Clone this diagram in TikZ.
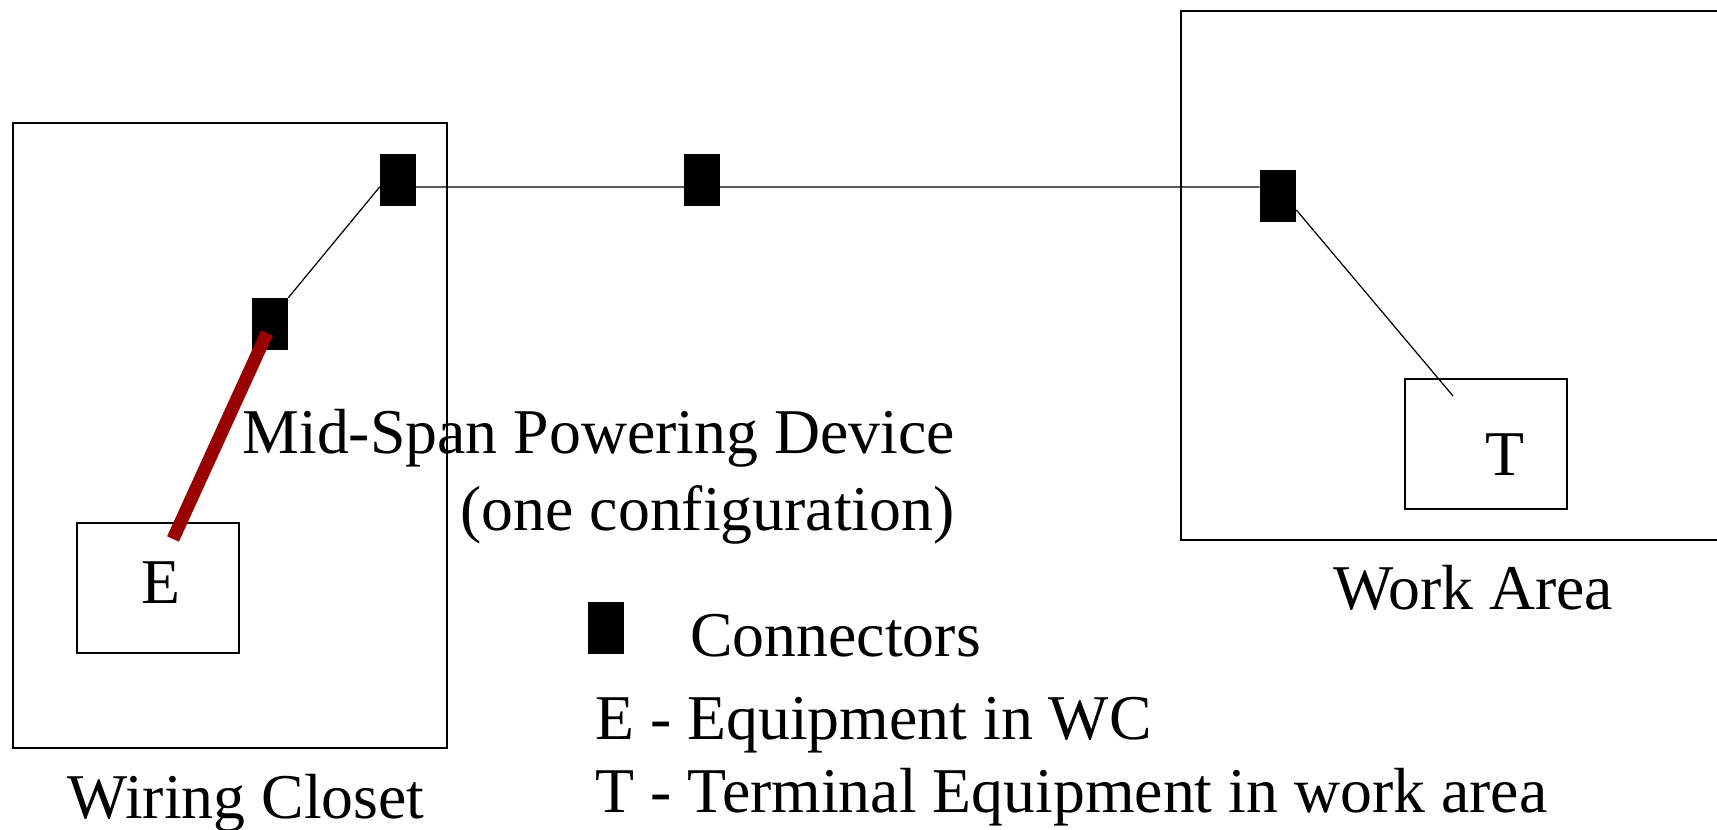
\documentclass[tikz,border=0pt]{standalone}
\usepackage{fontspec}
\setmainfont{Liberation Serif}
\usetikzlibrary{calc}
\definecolor{cablered}{RGB}{153,0,0}

\tikzset{
  conn/.style={fill=black, minimum width=0.72cm, minimum height=1.04cm, inner sep=0pt},
  area/.style={draw, line width=1pt},
  equip/.style={draw, line width=1pt, minimum width=3.24cm, minimum height=2.6cm, inner sep=0pt},
  wire/.style={line width=0.7pt},
  txt/.style={font=\fontsize{36.3}{43.7}\selectfont, inner sep=0pt}
}

\begin{document}
\begin{tikzpicture}[x=0.02cm, y=-0.02cm]
  \useasboundingbox (0,0) rectangle (1717,830);
  \clip (0,0) rectangle (1717,830);

  % Wiring closet
  \draw[area] (13,123) rectangle (447,748);
  \node[txt, anchor=base] (wc) at (246,818) {Wiring Closet};
  \node[equip] (ebox) at (158,588) {};
  \node[txt, anchor=base] (e) at (161,603) {E};

  % Work area
  \draw[area] (1181,11) rectangle (1740,540);
  \node[txt, anchor=base] (wa) at (1473,610) {Work Area};
  \node[equip] (tbox) at (1486,444) {};
  \node[txt, anchor=base] (t) at (1505,476) {T};

  % Connectors
  \node[conn] (c1) at (398,180) {};
  \node[conn] (c2) at (270,324) {};
  \node[conn] (cm) at (702,180) {};
  \node[conn] (c3) at (1278,196) {};

  % Cabling
  \coordinate (tend) at (1453,396);
  \draw[wire] (c2.north east) -- ($(c1.west)+(0,7)$) coordinate (h) -- (h -| c3.west);
  \draw[wire] ($(c3.east)+(0,14)$) -- (tend);
  \coordinate (ptop) at (267,333);
  \coordinate (pbot) at (173,539);
  \draw[cablered, line width=0.26cm] (ptop) -- (pbot);

  % Mid-span label
  \node[txt, anchor=base east] (mid) at (955,454) {Mid-Span Powering Device};
  \node[txt, anchor=base east] (cfg) at (955,531) {(one configuration)};

  % Legend
  \node[conn] (key) at (606,628) {};
  \node[txt, anchor=base west] (kconn) at (690,657) {Connectors};
  \node[txt, anchor=base west] (ke) at (595,739) {E - Equipment in WC};
  \node[txt, anchor=base west] (kt) at (595,812) {T - Terminal Equipment in work area};
\end{tikzpicture}
\end{document}
